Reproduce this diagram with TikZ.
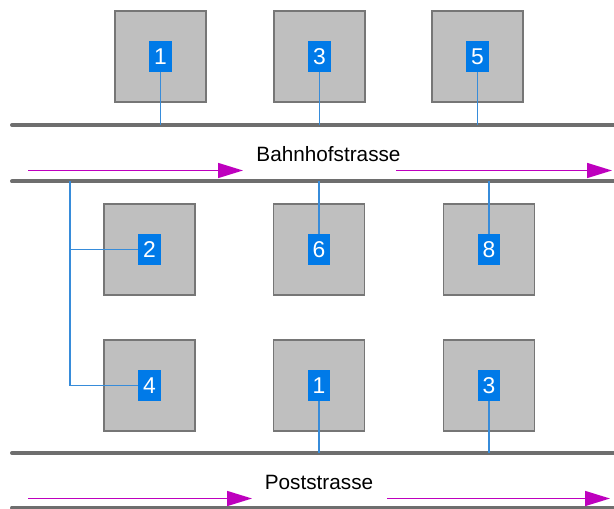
\documentclass[tikz,border=0pt]{standalone}
\usepackage{fontspec}
\setmainfont{Liberation Sans}
\usetikzlibrary{arrows.meta}
\definecolor{housegray}{RGB}{191,191,191}
\definecolor{wallgray}{RGB}{118,118,118}
\definecolor{roadgray}{RGB}{110,110,110}
\definecolor{numblue}{RGB}{0,122,232}
\definecolor{wireblue}{RGB}{55,140,218}
\definecolor{dirmagenta}{RGB}{190,0,190}
\tikzset{
  house/.style={draw=wallgray,fill=housegray,line width=0.6pt,minimum size=1.82cm,inner sep=0pt},
  hnumber/.style={fill=numblue,text=white,inner sep=0pt,minimum width=0.45cm,minimum height=0.61cm,font=\fontsize{13}{15}\selectfont},
  roadline/.style={draw=roadgray,line width=0.08cm,line cap=round},
  wireline/.style={draw=wireblue,line width=0.7pt},
  dirarrow/.style={draw=dirmagenta,line width=0.03cm,-{Triangle[length=0.5cm,width=0.3cm]}},
  street/.style={anchor=base,inner sep=0pt,font=\fontsize{11.8}{14}\selectfont}
}
\newcommand{\house}[3]{\node[house] (#3) at (#1,#2) {};}
\newcommand{\hnum}[2]{\node[hnumber] (n#1) at (#1) {#2};}
\newcommand{\road}[2]{\draw[roadline] (12,#1) coordinate (#2) -- (614,#1);}
\begin{document}
\begin{tikzpicture}[x=0.02cm,y=-0.02cm]
	\useasboundingbox (0,0) rectangle (614,509);
	% roads
	\road{125}{ra} \road{181.5}{rb} \road{453}{rc} \road{507.5}{rd}
	% houses, north side of Bahnhofstrasse
	\house{160.5}{56.5}{b1} \house{319.5}{56.5}{b3} \house{477.5}{56.5}{b5}
	\hnum{b1}{1} \hnum{b3}{3} \hnum{b5}{5}
	% houses between the two streets
	\house{149.5}{249.5}{b2} \house{319}{249.5}{b6} \house{489}{249.5}{b8}
	\house{149.5}{385.5}{b4} \house{319}{385.5}{p1} \house{489}{385.5}{p3}
	\hnum{b2}{2} \hnum{b6}{6} \hnum{b8}{8}
	\hnum{b4}{4} \hnum{p1}{1} \hnum{p3}{3}
	% connections
	\draw[wireline] (nb1.south) -- (nb1.south |- ra);
	\draw[wireline] (nb3.south) -- (nb3.south |- ra);
	\draw[wireline] (nb5.south) -- (nb5.south |- ra);
	\draw[wireline] (nb6.north) -- (nb6.north |- rb);
	\draw[wireline] (nb8.north) -- (nb8.north |- rb);
	\draw[wireline] (np1.south) -- (np1.south |- rc);
	\draw[wireline] (np3.south) -- (np3.south |- rc);
	\coordinate (tap) at (70,181.5);
	\draw[wireline] (tap) |- (nb4.west);
	\draw[wireline] (nb2.west) -- (nb2.west -| tap);
	% streets
	\node[street] (bahnhof) at (328.5,162) {Bahnhofstrasse};
	\node[street] (post) at (319,489) {Poststrasse};
	\coordinate (ba1) at (28,170.5); \coordinate (ba2) at (243,170.5);
	\coordinate (ba3) at (396,170.5); \coordinate (ba4) at (612,170.5);
	\coordinate (pa1) at (28,498.5); \coordinate (pa2) at (252,498.5);
	\coordinate (pa3) at (387,498.5); \coordinate (pa4) at (610,498.5);
	\draw[dirarrow] (ba1) -- (ba2); \draw[dirarrow] (ba3) -- (ba4);
	\draw[dirarrow] (pa1) -- (pa2); \draw[dirarrow] (pa3) -- (pa4);
\end{tikzpicture}
\end{document}
